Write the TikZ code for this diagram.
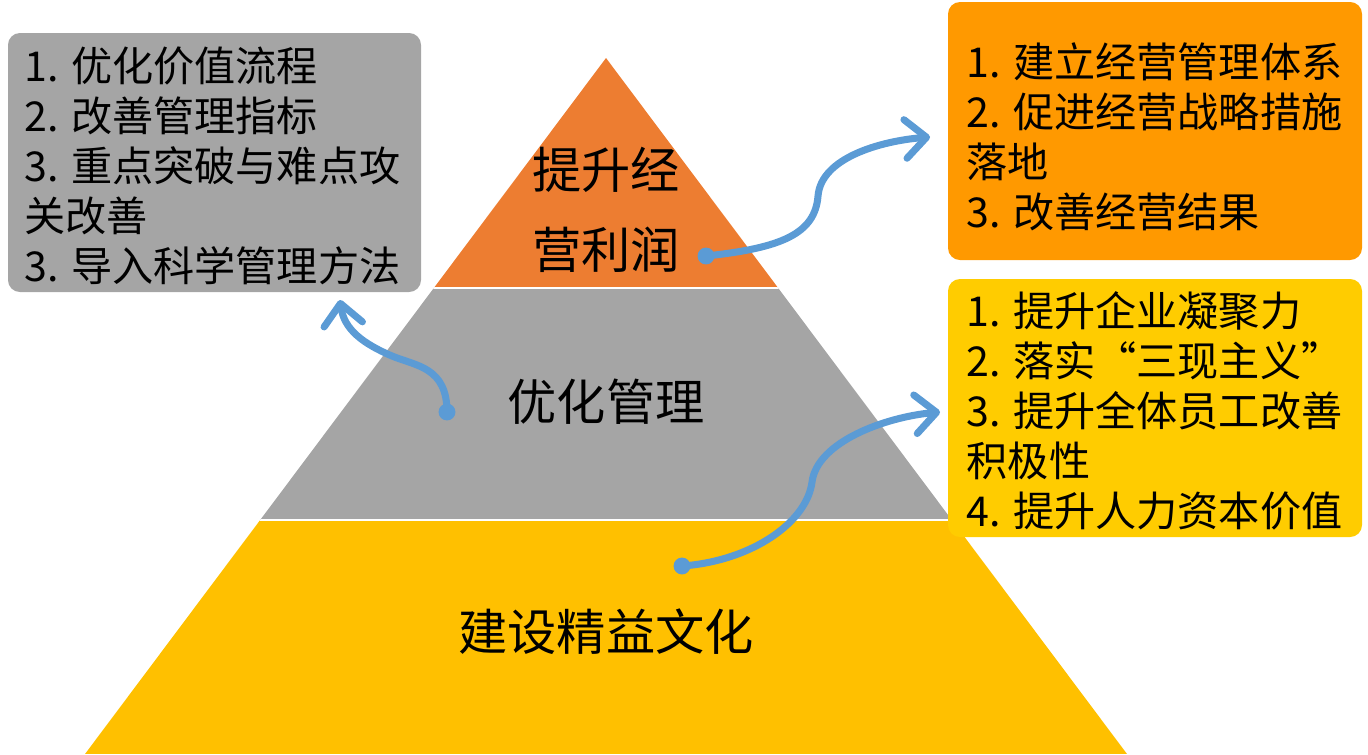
\documentclass[tikz,border=0pt]{standalone}
\usepackage{fontspec}
\newfontfamily\cjk{Noto Sans CJK SC}
\usetikzlibrary{arrows.meta}

\definecolor{pyrorange}{HTML}{ED7D31}
\definecolor{pyrgray}{HTML}{A5A5A5}
\definecolor{pyryellow}{HTML}{FFC000}
\definecolor{boxorange}{HTML}{FF9900}
\definecolor{boxyellow}{HTML}{FFCC00}
\definecolor{flowblue}{HTML}{5B9BD5}

\tikzset{
  layertext/.style={font=\cjk\fontsize{14}{22.8}\selectfont, align=center, inner sep=0},
  listtext/.style={font=\cjk\fontsize{11.7}{14.2}\selectfont, align=left, anchor=north west, inner sep=0},
  listbox/.style={rounded corners=3.4pt},
  flow/.style={line width=2pt, color=flowblue, line cap=round,
    -{Straight Barb[round, length=6pt, width=11pt]}},
  flowdot/.style={circle, fill=flowblue, minimum size=4.8pt, inner sep=0}
}

\begin{document}
\begin{tikzpicture}[x=0.01cm, y=-0.01cm]
		%%%%% START %%%%%
		\useasboundingbox (0,0) rectangle (1368,754);
		
		% pyramid
		\coordinate (apex) at (606,58);
		\begin{scope}
			\clip (apex) -- (85,754) -- (1127,754) -- cycle;
			\fill[pyrorange] (0,0) rectangle (1368,288);
			\fill[pyrgray] (0,288) rectangle (1368,520);
			\fill[pyryellow] (0,520) rectangle (1368,754);
			\draw[white, line width=0.7pt] (0,288) -- (1368,288);
			\draw[white, line width=0.7pt] (0,520) -- (1368,520);
		\end{scope}
		
		\node[layertext] (profit) at (606,210) {提升经\\营利润};
		\node[layertext] (manage) at (606,402) {优化管理};
		\node[layertext] (culture) at (606,632) {建设精益文化};
		
		% boxes
		\fill[pyrgray, listbox] (8,33) rectangle (421,292);
		\node[listtext] (managelist) at (24,46) {1. 优化价值流程\\2. 改善管理指标\\3. 重点突破与难点攻\\关改善\\3. 导入科学管理方法};
		
		\fill[boxorange, listbox] (948,2) rectangle (1362,260);
		\node[listtext] (profitlist) at (966,42) {1. 建立经营管理体系\\2. 促进经营战略措施\\落地\\3. 改善经营结果};
		
		\fill[boxyellow, listbox] (948,279) rectangle (1362,537);
		\node[listtext] (culturelist) at (966,291) {1. 提升企业凝聚力\\2. 落实“三现主义”\\3. 提升全体员工改善\\积极性\\4. 提升人力资本价值};
		
		% arrows
		\node[flowdot] (profitdot) at (706,256) {};
		\coordinate (profitbend) at (818,196);
		\coordinate (profittip) at (930,137);
		\draw[flow] (profitdot.center) .. controls +(75,-8) and +(-3,38) .. (profitbend) .. controls +(3,-38) and +(-50,4) .. (profittip);
		
		\node[flowdot] (managedot) at (447,412) {};
		\coordinate (managebend) at (392,356);
		\coordinate (managetip) at (340,300);
		\draw[flow] (managedot.center) .. controls +(0,-45) and +(24,10) .. (managebend) .. controls +(-28,-12) and +(4,30) .. (managetip);
		
		\node[flowdot] (culturedot) at (682,566) {};
		\coordinate (culturebend) at (812,482);
		\coordinate (culturetip) at (940,412);
		\draw[flow] (culturedot.center) .. controls +(70,-5) and +(-5,40) .. (culturebend) .. controls +(5,-40) and +(-55,5) .. (culturetip);
		
		%%%%% END %%%%%
	\end{tikzpicture}
\end{document}
